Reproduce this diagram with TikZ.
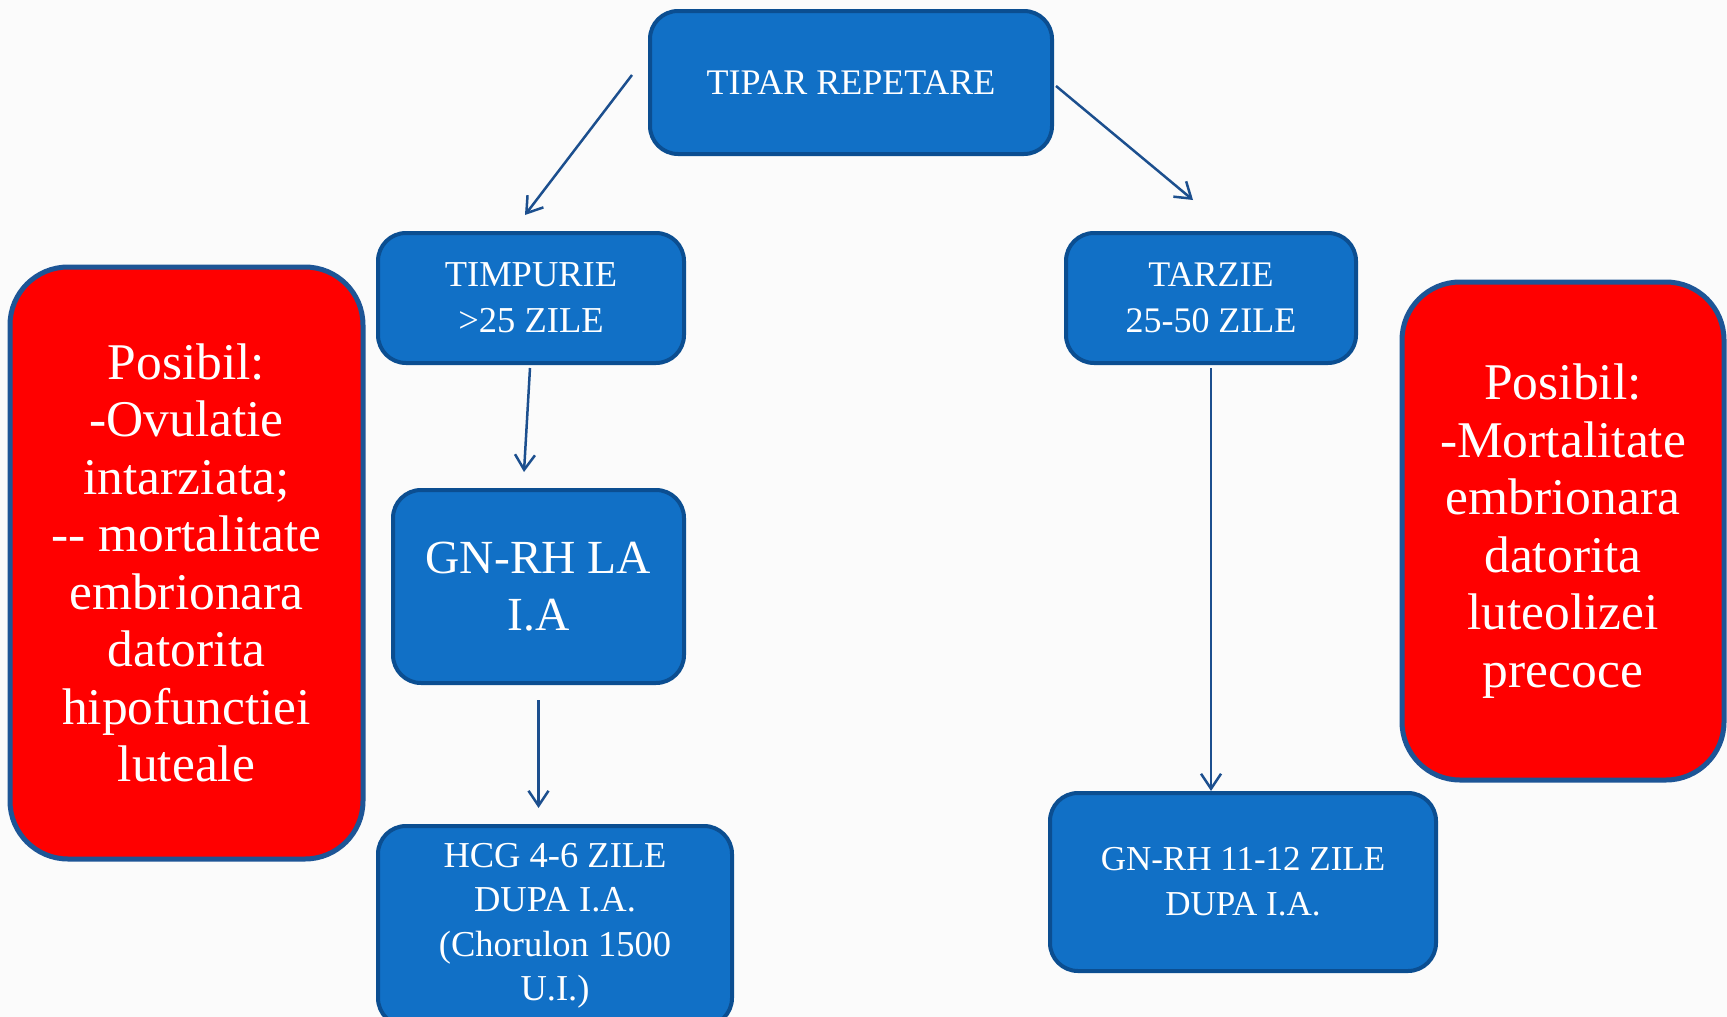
\documentclass[tikz,border=0pt]{standalone}
\usepackage{fontspec}
\setmainfont{Liberation Serif}
\usetikzlibrary{arrows.meta,calc}
\definecolor{boxblue}{HTML}{1170C6}
\definecolor{boxedge}{HTML}{0B4E91}
\definecolor{redfill}{HTML}{FF0000}
\definecolor{rededge}{HTML}{1D5596}
\definecolor{arrowblue}{HTML}{1C4F8E}
\definecolor{bg}{HTML}{FBFBFB}
\tikzset{
  bluebox/.style={draw=boxedge, fill=boxblue, line width=4pt, rounded corners=28pt,
    text=white, align=center, inner sep=0pt},
  redbox/.style={draw=rededge, fill=redfill, line width=5pt, rounded corners=58pt,
    text=white, align=center, inner sep=0pt,
    font=\fontsize{51.5}{57.5}\selectfont},
  arr/.style={draw=arrowblue, line width=2.5pt,
    -{Straight Barb[length=15pt,width=20pt,line width=2.5pt]}},
}
\begin{document}
\begin{tikzpicture}[x=1pt,y=-1pt]
\useasboundingbox (0,0) rectangle (1727,1017);
\clip (0,0) rectangle (1727,1017);
\fill[bg] (0,0) rectangle (1727,1017);

\node[bluebox, minimum width=402pt, minimum height=143pt,
  font=\fontsize{36}{44}\selectfont] (top) at (851,82.5) {TIPAR REPETARE};
\node[bluebox, minimum width=306pt, minimum height=130pt,
  font=\fontsize{36.5}{46}\selectfont] (timp) at (531,298) {TIMPURIE\\>25 ZILE};
\node[bluebox, minimum width=290pt, minimum height=130pt,
  font=\fontsize{36}{46}\selectfont] (tarz) at (1211,298) {TARZIE\\25-50 ZILE};
\node[bluebox, minimum width=291pt, minimum height=193pt,
  font=\fontsize{47.5}{57}\selectfont] (gnla) at (538.5,586.5) {GN-RH LA\\I.A};
\node[bluebox, minimum width=354pt, minimum height=200pt,
  font=\fontsize{36.5}{44.5}\selectfont] (hcg) at (555,926) {HCG 4-6 ZILE\\DUPA I.A.\\(Chorulon 1500\\U.I.)};
\node[bluebox, minimum width=386pt, minimum height=178pt,
  font=\fontsize{35}{45}\selectfont] (gn11) at (1243,882) {GN-RH 11-12 ZILE\\DUPA I.A.};

\node[redbox, minimum width=353pt, minimum height=592pt] (lred) at (186.5,563)
  {Posibil:\\-Ovulatie\\intarziata;\\-{}- mortalitate\\embrionara\\datorita\\hipofunctiei\\luteale};
\node[redbox, minimum width=322pt, minimum height=498pt] (rred) at (1563,531)
  {Posibil:\\-Mortalitate\\embrionara\\datorita\\luteolizei\\precoce};

\draw[arr] ($(top.west)+(-16,-7.5)$) -- ($(timp.north)+(-6,-16)$);
\draw[arr] ($(top.east)+(2,3.5)$) -- ($(tarz.north)+(-18,-31)$);
\draw[arr] ($(timp.south)+(-1,3)$) -- ($(gnla.north)+(-14.5,-16)$);
\draw[arr, shorten <=15pt, shorten >=16pt] (gnla.south) -- (gnla.south |- hcg.north);
\draw[arr, shorten <=3pt] (tarz.south) -- (tarz.south |- gn11.north);
\end{tikzpicture}
\end{document}
